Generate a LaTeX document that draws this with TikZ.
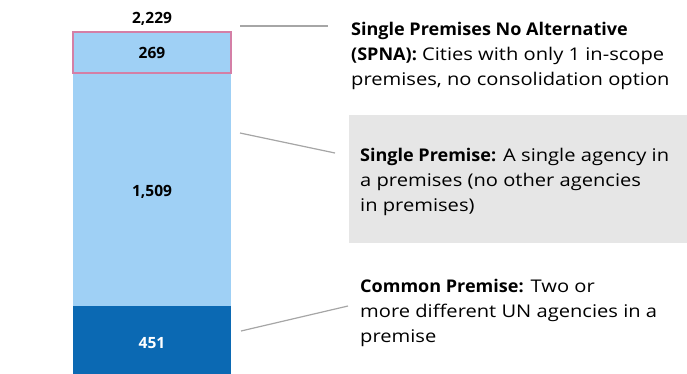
\documentclass[tikz,border=0pt]{standalone}
\usepackage{fontspec}
\setmainfont{Open Sans}[FakeStretch=1.15]
\newfontfamily\boldface{Open Sans Bold}[FakeStretch=1.03]
\newfontfamily\numface{Open Sans Bold}
\newcommand{\lead}[1]{{\boldface #1}}
\definecolor{lightbar}{HTML}{9FD0F5}
\definecolor{darkbar}{HTML}{0B69B3}
\definecolor{pinkedge}{HTML}{D47FA6}
\definecolor{leader}{HTML}{A6A6A6}
\definecolor{boxgray}{HTML}{E6E6E6}
\begin{document}
\begin{tikzpicture}[x=1pt,y=-1pt,
  numfont/.style={font=\numface\fontsize{15.5}{17}\selectfont},
  seg/.style={minimum width=158pt, inner sep=0pt, outer sep=0pt, anchor=north west, numfont},
  leaderline/.style={draw=leader, line width=1.2pt},
  desc/.style={anchor=west, align=left, inner sep=0pt, font=\fontsize{17.5}{25}\selectfont}]
\useasboundingbox (0,0) rectangle (687,373);
% bar segments
\node[seg, fill=lightbar, minimum height=233pt] (single) at (73,73) {};
\node[numfont] (singlenum) at (152,192) {1,509};
\node[seg, fill=darkbar, text=white, minimum height=74pt] (common) at (73,306) {451};
\node[seg, fill=lightbar, draw=pinkedge, line width=1.1pt, minimum height=41pt] (spna) at (73,32) {269};
\node[numfont] (total) at (152,19) {2,229};
% gray box
\node[fill=boxgray, inner sep=0pt, anchor=north west, minimum width=338pt, minimum height=128pt] (graybox) at (349,115) {};
% descriptions
\node[desc] (spnatext) at (351,55.5) {\lead{Single Premises No Alternative}\\\lead{(SPNA):} Cities with only 1 in-scope\\premises, no consolidation option};
\node[desc] (singletext) at (360,182) {\lead{Single Premise:} A single agency in\\a premises (no other agencies\\in premises)};
\node[desc] (commontext) at (360,313) {\lead{Common Premise:} Two or\\more different UN agencies in a\\premise};
% leader lines
\coordinate (l1a) at (240,26);
\coordinate (l1b) at (328,26);
\coordinate (l2a) at (240,133);
\coordinate (l2b) at (335,153);
\coordinate (l3a) at (241,331);
\coordinate (l3b) at (348,306);
\draw[leaderline] (l1a) -- (l1b);
\draw[leaderline] (l2a) -- (l2b);
\draw[leaderline] (l3a) -- (l3b);
\end{tikzpicture}
\end{document}
